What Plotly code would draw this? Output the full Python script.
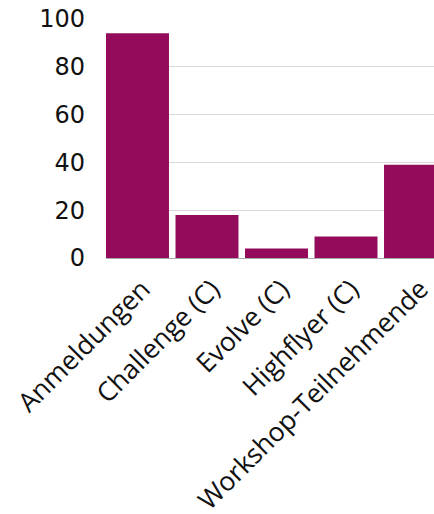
import plotly.graph_objects as go

categories = ["Anmeldungen", "Challenge (C)", "Evolve (C)", "Highflyer (C)", "Workshop-Teilnehmende"]
values = [94, 18, 4, 9, 39]
y_ticks = [0, 20, 40, 60, 80, 100]

fig = go.Figure(go.Bar(x=categories, y=values, marker=dict(color="#930b5a", line=dict(width=0))))

fig.update_layout(
    width=434, height=514,
    margin=dict(l=106, r=0, t=19, b=256, autoexpand=False),
    paper_bgcolor="white", plot_bgcolor="white",
    bargap=0.094,
    showlegend=False,
)
fig.update_xaxes(
    range=[-0.453, 4.266],
    tickangle=-45,
    tickfont=dict(family="Open Sans", size=26.5, color="#111"),
    showline=True, linecolor="#aaaaaa", linewidth=1,
    showgrid=False,
    ticks="",
    ticklabelstandoff=4,
    ticklabelshift=5,
    automargin=False,
)
fig.update_yaxes(
    range=[0, 100],
    tickvals=y_ticks,
    tickfont=dict(family="DejaVu Sans", size=24, color="#111"),
    gridcolor="#d9d9d9", gridwidth=1,
    zeroline=False,
    showline=False,
    ticklabelstandoff=20,
    automargin=False,
)

fig.write_html(
    "out.html",
    config={"displayModeBar": False},
    post_script="document.body.style.margin='0';document.body.style.overflow='hidden';",
)
